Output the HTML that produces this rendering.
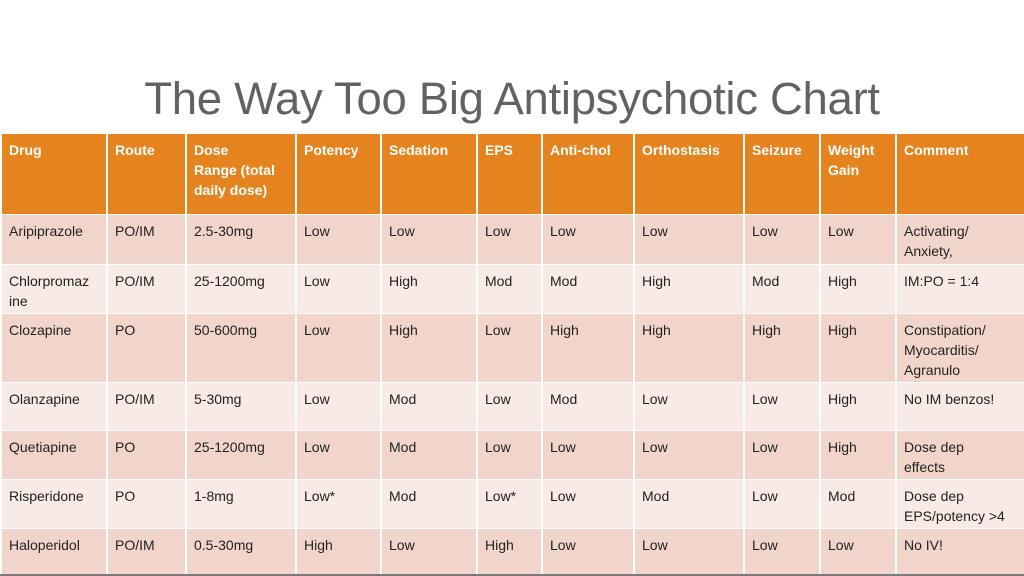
<!DOCTYPE html>
<html><head><meta charset="utf-8">
<style>
body{margin:0;width:1024px;height:576px;background:#fff;overflow:hidden;font-family:"Liberation Sans",sans-serif;position:relative}
h1{position:absolute;top:73px;left:0;width:1024px;text-align:center;margin:0;font-weight:normal;font-size:45.5px;color:#626262;letter-spacing:-0.3px}
table{position:absolute;left:0;top:134px;width:1024px;border-collapse:collapse;table-layout:fixed;font-size:14px;color:#222}
td,th{border:2px solid #fff;border-top:0;border-bottom:1px solid #fff;vertical-align:top;text-align:left;padding:6px 7px 0 7px;line-height:20px;overflow:hidden;white-space:nowrap}
th{background:#e5831e;color:#fff;font-weight:bold;height:74px}
tr.o td{background:#f1d5cb}
tr.e td{background:#f8eae5}
tr:last-child td{border-bottom:2px solid #7a7a7a}
</style></head><body>
<h1>The Way Too Big Antipsychotic Chart</h1>
<table>
<colgroup><col style="width:106px"><col style="width:79px"><col style="width:110px"><col style="width:85px"><col style="width:96px"><col style="width:65px"><col style="width:92px"><col style="width:110px"><col style="width:76px"><col style="width:76px"><col style="width:129px"></colgroup>
<tr><th>Drug</th><th>Route</th><th>Dose<br>Range (total<br>daily dose)</th><th>Potency</th><th>Sedation</th><th>EPS</th><th>Anti-chol</th><th>Orthostasis</th><th>Seizure</th><th>Weight<br>Gain</th><th>Comment</th></tr>
<tr class="o" style="height:50px"><td>Aripiprazole</td><td>PO/IM</td><td>2.5-30mg</td><td>Low</td><td>Low</td><td>Low</td><td>Low</td><td>Low</td><td>Low</td><td>Low</td><td>Activating/<br>Anxiety,</td></tr>
<tr class="e" style="height:49px"><td>Chlorpromaz<br>ine</td><td>PO/IM</td><td>25-1200mg</td><td>Low</td><td>High</td><td>Mod</td><td>Mod</td><td>High</td><td>Mod</td><td>High</td><td>IM:PO = 1:4</td></tr>
<tr class="o" style="height:69px"><td>Clozapine</td><td>PO</td><td>50-600mg</td><td>Low</td><td>High</td><td>Low</td><td>High</td><td>High</td><td>High</td><td>High</td><td>Constipation/<br>Myocarditis/<br>Agranulo</td></tr>
<tr class="e" style="height:48px"><td>Olanzapine</td><td>PO/IM</td><td>5-30mg</td><td>Low</td><td>Mod</td><td>Low</td><td>Mod</td><td>Low</td><td>Low</td><td>High</td><td>No IM benzos!</td></tr>
<tr class="o" style="height:49px"><td>Quetiapine</td><td>PO</td><td>25-1200mg</td><td>Low</td><td>Mod</td><td>Low</td><td>Low</td><td>Low</td><td>Low</td><td>High</td><td>Dose dep<br>effects</td></tr>
<tr class="e" style="height:49px"><td>Risperidone</td><td>PO</td><td>1-8mg</td><td>Low*</td><td>Mod</td><td>Low*</td><td>Low</td><td>Mod</td><td>Low</td><td>Mod</td><td>Dose dep<br>EPS/potency &gt;4</td></tr>
<tr class="o" style="height:46px"><td>Haloperidol</td><td>PO/IM</td><td>0.5-30mg</td><td>High</td><td>Low</td><td>High</td><td>Low</td><td>Low</td><td>Low</td><td>Low</td><td>No IV!</td></tr>
</table>
</body></html>
